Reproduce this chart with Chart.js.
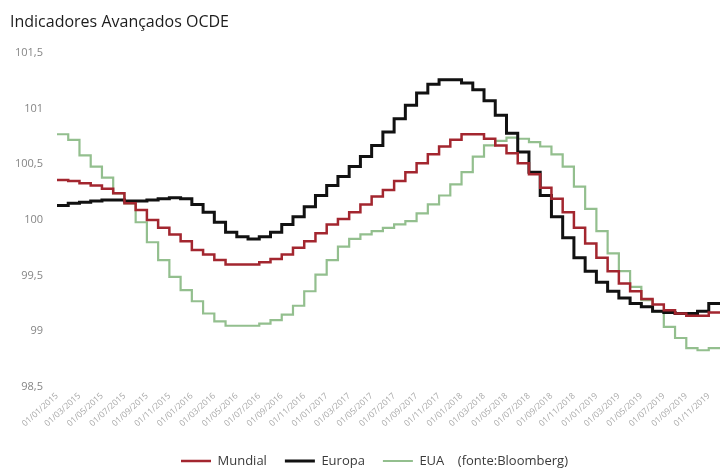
<!DOCTYPE html>
<html>
<head>
<meta charset="utf-8">
<script src="https://cdn.jsdelivr.net/npm/chart.js@4/dist/chart.umd.min.js"></script>
<style>
  html, body { margin: 0; padding: 0; background: #ffffff; overflow: hidden; }
  #wrap { position: absolute; left: 0; top: 0; width: 720px; height: 468px; }
</style>
</head>
<body>
<div id="wrap"><canvas id="chart" width="720" height="468"></canvas></div>
<script>
// Monthly leading indicators, Jan 2015 – Nov 2019
const tickLabels = [
  '01/01/2015','01/03/2015','01/05/2015','01/07/2015','01/09/2015','01/11/2015',
  '01/01/2016','01/03/2016','01/05/2016','01/07/2016','01/09/2016','01/11/2016',
  '01/01/2017','01/03/2017','01/05/2017','01/07/2017','01/09/2017','01/11/2017',
  '01/01/2018','01/03/2018','01/05/2018','01/07/2018','01/09/2018','01/11/2018',
  '01/01/2019','01/03/2019','01/05/2019','01/07/2019','01/09/2019','01/11/2019'
];

const mundial = [
  100.36, 100.35, 100.33, 100.31, 100.28, 100.24, 100.15, 100.09, 100.00, 99.93,
  99.87, 99.81, 99.73, 99.69, 99.64, 99.60, 99.60, 99.60, 99.62, 99.65,
  99.69, 99.75, 99.81, 99.88, 99.96, 100.01, 100.07, 100.14, 100.21, 100.27,
  100.35, 100.43, 100.51, 100.59, 100.66, 100.72, 100.77, 100.77, 100.73, 100.67,
  100.60, 100.51, 100.41, 100.29, 100.19, 100.07, 99.93, 99.79, 99.66, 99.54,
  99.43, 99.36, 99.29, 99.24, 99.19, 99.16, 99.14, 99.14, 99.17
];

const europa = [
  100.13, 100.15, 100.16, 100.17, 100.18, 100.18, 100.17, 100.17, 100.18, 100.19,
  100.20, 100.19, 100.14, 100.07, 99.98, 99.89, 99.85, 99.83, 99.85, 99.89,
  99.96, 100.03, 100.12, 100.22, 100.31, 100.39, 100.48, 100.57, 100.67, 100.79,
  100.91, 101.03, 101.14, 101.22, 101.26, 101.26, 101.23, 101.17, 101.07, 100.94,
  100.78, 100.61, 100.43, 100.22, 100.03, 99.84, 99.66, 99.54, 99.44, 99.36,
  99.30, 99.25, 99.22, 99.18, 99.17, 99.16, 99.16, 99.18, 99.25
];

const eua = [
  100.77, 100.72, 100.58, 100.48, 100.38, 100.24, 100.15, 99.98, 99.80, 99.64,
  99.49, 99.37, 99.27, 99.16, 99.09, 99.05, 99.05, 99.05, 99.07, 99.10,
  99.15, 99.23, 99.36, 99.51, 99.64, 99.76, 99.83, 99.87, 99.90, 99.93,
  99.96, 99.99, 100.06, 100.14, 100.22, 100.32, 100.43, 100.57, 100.67, 100.71,
  100.74, 100.73, 100.70, 100.66, 100.59, 100.48, 100.30, 100.10, 99.90, 99.70,
  99.54, 99.40, 99.28, 99.18, 99.04, 98.94, 98.85, 98.83, 98.85
];

const yTicks = [98.5, 99, 99.5, 100, 100.5, 101, 101.5];

// Each monthly value is held across its month: points sit at the start of
// the month and the final value is closed off at the end of its month.
function monthSteps(values) {
  const pts = values.map((v, i) => ({ x: i, y: v }));
  pts.push({ x: values.length, y: values[values.length - 1] });
  return pts;
}

const FONT = "'Open Sans', 'Noto Sans', sans-serif";
const nMonths = mundial.length;

// Centre the legend row a little to the right of the canvas centre.
const legendOffset = {
  id: 'legendOffset',
  afterLayout(chart) {
    if (chart.legend) {
      chart.legend.left += 8;
      chart.legend.right += 8;
    }
  }
};

new Chart(document.getElementById('chart'), {
  type: 'line',
  data: {
    datasets: [
      { label: 'Mundial', data: monthSteps(mundial), borderColor: '#a3262f', backgroundColor: '#a3262f', borderWidth: 2.5 },
      { label: 'Europa', data: monthSteps(europa), borderColor: '#111111', backgroundColor: '#111111', borderWidth: 3 },
      { label: 'EUA    (fonte:Bloomberg)', data: monthSteps(eua), borderColor: '#93bf8e', backgroundColor: '#93bf8e', borderWidth: 2.2 }
    ]
  },
  plugins: [legendOffset],
  options: {
    responsive: false,
    animation: false,
    devicePixelRatio: 1,
    layout: { padding: { left: 10, right: -3, top: 13, bottom: -9.5 } },
    elements: {
      point: { radius: 0, hoverRadius: 0 },
      line: { stepped: 'before', fill: false, tension: 0, borderJoinStyle: 'miter', borderCapStyle: 'butt' }
    },
    scales: {
      x: {
        type: 'linear',
        min: 0,
        max: nMonths,
        grid: { display: false, drawTicks: false },
        border: { display: false },
        afterBuildTicks: (scale) => {
          scale.ticks = tickLabels.map((_, k) => ({ value: 2 * k }));
        },
        afterFit: (scale) => {
          scale.height = 49.5;
          scale.paddingLeft = 0;
          scale.paddingRight = 0;
        },
        ticks: {
          autoSkip: false,
          minRotation: 42,
          maxRotation: 42,
          padding: 4,
          color: '#a8a8a8',
          font: { family: FONT, size: 8.5 },
          callback: (value) => tickLabels[value / 2] || ''
        }
      },
      y: {
        min: 98.5,
        max: 101.5,
        grid: { display: false, drawTicks: false },
        border: { display: false },
        afterBuildTicks: (scale) => {
          scale.ticks = yTicks.map(v => ({ value: v }));
        },
        afterFit: (scale) => { scale.width = 47; },
        ticks: {
          padding: 14,
          color: '#858585',
          font: { family: FONT, size: 11 },
          callback: (value) => String(value).replace('.', ',')
        }
      }
    },
    plugins: {
      title: {
        display: true,
        text: 'Indicadores Avançados OCDE',
        align: 'start',
        color: '#1c1c1c',
        font: { family: FONT, size: 16, weight: 'normal' },
        padding: { top: 0, bottom: 20.8 }
      },
      legend: {
        position: 'bottom',
        labels: {
          boxWidth: 30,
          boxHeight: 0,
          padding: 18,
          color: '#3a3a3a',
          font: { family: FONT, size: 13 }
        }
      },
      tooltip: { enabled: false }
    }
  }
});
</script>
</body>
</html>
